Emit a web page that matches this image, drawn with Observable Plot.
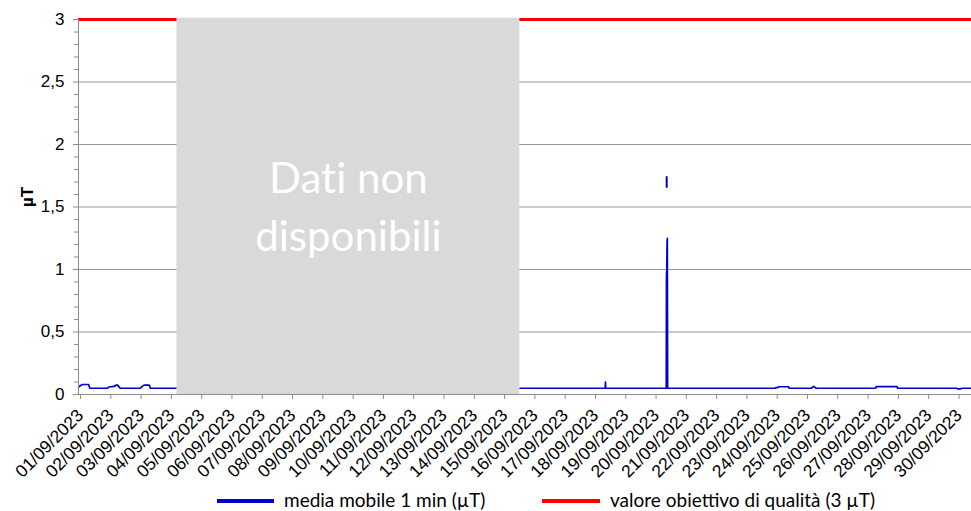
<!DOCTYPE html>
<html>
<head>
<meta charset="utf-8">
<script src="https://cdn.jsdelivr.net/npm/d3@7"></script>
<script src="https://cdn.jsdelivr.net/npm/@observablehq/plot@0.6"></script>
<style>
  html, body { margin: 0; padding: 0; background: #fff; }
  #chart svg { display: block; font-variant-ligatures: none; }
  #chart svg text { font-variant-ligatures: none; }
  #legend { position: relative; height: 25px; font-family: Lato, "DejaVu Sans", sans-serif; font-size: 19px; color: #000; }
  .sw { position: absolute; top: 13px; height: 4px; }
  .lt { position: absolute; top: 2px; white-space: nowrap; }
</style>
</head>
<body>
<div id="chart"></div>
<div id="legend">
  <div class="sw" style="left:217px;width:57px;background:#0000cc"></div>
  <div class="lt" style="left:284px">media mobile 1 min (µT)</div>
  <div class="sw" style="left:542px;width:58px;background:#ff0000"></div>
  <div class="lt" style="left:610px">valore obiettivo di qualità (3 µT)</div>
</div>
<script>
// ---- data ----
const seriesTimes = [
  "2023-09-01T00:00","2023-09-01T01:30","2023-09-01T03:00","2023-09-01T08:00","2023-09-01T09:00",
  "2023-09-01T23:00","2023-09-02T00:00","2023-09-02T04:00","2023-09-02T06:00","2023-09-02T07:00","2023-09-02T09:00",
  "2023-09-03T01:00","2023-09-03T02:30","2023-09-03T04:00","2023-09-03T08:00","2023-09-03T09:00",
  "2023-09-04T06:00","2023-09-10T00:00","2023-09-15T13:40",
  "2023-09-18T09:20","2023-09-18T09:30","2023-09-18T09:40",
  "2023-09-20T09:40","2023-09-20T09:50","2023-09-20T10:05","2023-09-20T10:20","2023-09-20T10:30","2023-09-20T10:45",
  "2023-09-24T00:00","2023-09-24T00:30","2023-09-24T02:00","2023-09-24T03:00","2023-09-24T10:30","2023-09-24T11:00",
  "2023-09-25T04:30","2023-09-25T06:30","2023-09-25T08:30",
  "2023-09-27T07:30","2023-09-27T08:00","2023-09-28T00:30","2023-09-28T01:00",
  "2023-09-30T00:00","2023-09-30T00:30","2023-09-30T03:00","2023-09-30T03:30","2023-09-30T11:30"
];
const seriesValues = [
  0.06, 0.07, 0.08, 0.08, 0.05,
  0.05, 0.06, 0.065, 0.075, 0.075, 0.05,
  0.05, 0.065, 0.075, 0.075, 0.05,
  0.05, NaN, 0.05,
  0.05, 0.1, 0.05,
  0.05, 0.95, 1.0, 1.22, 1.25, 0.05,
  0.05, 0.055, 0.055, 0.062, 0.062, 0.05,
  0.05, 0.065, 0.05,
  0.05, 0.063, 0.063, 0.05,
  0.05, 0.045, 0.045, 0.05, 0.05
];
const isolatedTimes = ["2023-09-20T10:00", "2023-09-20T10:00"];
const isolatedValues = [1.66, 1.74];
const targetValue = 3;
const gapStart = "2023-09-04T06:00";
const gapEnd = "2023-09-15T13:40";
const gapText = "Dati non\ndisponibili";
const xTicks = [
  "2023-09-01","2023-09-02","2023-09-03","2023-09-04","2023-09-05","2023-09-06","2023-09-07","2023-09-08",
  "2023-09-09","2023-09-10","2023-09-11","2023-09-12","2023-09-13","2023-09-14","2023-09-15","2023-09-16",
  "2023-09-17","2023-09-18","2023-09-19","2023-09-20","2023-09-21","2023-09-22","2023-09-23","2023-09-24",
  "2023-09-25","2023-09-26","2023-09-27","2023-09-28","2023-09-29","2023-09-30"
];
const yMajorTicks = [0, 0.5, 1, 1.5, 2, 2.5, 3];
const yMinorTicks = [0.1,0.2,0.3,0.4,0.6,0.7,0.8,0.9,1.1,1.2,1.3,1.4,1.6,1.7,1.8,1.9,2.1,2.2,2.3,2.4,2.6,2.7,2.8,2.9];
const yGrid = [0.5, 1, 1.5, 2, 2.5];
const yLabel = "µT";
const xDomain = ["2023-09-01T00:00", "2023-09-30T11:30"];

// ---- build ----
const T = s => new Date(s + (s.length === 10 ? "T00:00" : "") + "Z");
const series = seriesTimes.map((t, i) => ({t: T(t), v: seriesValues[i]}));
const isolated = isolatedTimes.map((t, i) => ({t: T(t), v: isolatedValues[i]}));
const g0 = T(gapStart), g1 = T(gapEnd);
const gmid = new Date((+g0 + +g1) / 2);
const fmtY = d => String(d).replace(".", ",");
const fmtX = d3.utcFormat("%d/%m/%Y");

const chart = Plot.plot({
  width: 971,
  height: 486,
  marginLeft: 78,
  marginRight: 0,
  marginTop: 19,
  marginBottom: 92,
  style: {fontFamily: "'Liberation Sans', Arial, sans-serif", color: "#000", background: "#fff"},
  x: {type: "utc", domain: xDomain.map(T)},
  y: {domain: [0, 3]},
  marks: [
    Plot.ruleY(yGrid, {stroke: "#979797", strokeWidth: 1}),
    Plot.ruleY([targetValue], {stroke: "#ff0000", strokeWidth: 3}),
    Plot.line(series, {x: "t", y: "v", stroke: "#0000cc", strokeWidth: 1.7}),
    Plot.line(isolated, {x: "t", y: "v", stroke: "#0000cc", strokeWidth: 2}),
    Plot.rect([{a: g0, b: g1}], {x1: "a", x2: "b", y1: 0, y2: 3.01, fill: "#d9d9d9"}),
    Plot.text([gapText], {x: gmid, y: 1.53, fill: "#fff", fontSize: 42, lineHeight: 1.38,
      fontFamily: "Lato, 'Open Sans', sans-serif"}),
    Plot.ruleX([0], {x: () => T(xDomain[0]), y1: 0, y2: 3, stroke: "#8c8c8c", strokeWidth: 1}),
    Plot.ruleY([0], {stroke: "#8c8c8c", strokeWidth: 1}),
    Plot.axisY({ticks: yMinorTicks, tickSize: 4, tickFormat: () => "", stroke: "#8c8c8c", label: null}),
    Plot.axisY({ticks: yMajorTicks, tickSize: 5, tickPadding: 9, tickFormat: fmtY, fontSize: 17, stroke: "#8c8c8c", label: null}),
    Plot.axisX({ticks: xTicks.map(T), tickSize: 5, tickPadding: 13, dx: 2, tickRotate: -45, tickFormat: fmtX, fontSize: 17.5, stroke: "#8c8c8c", label: null}),
    Plot.text([yLabel], {frameAnchor: "left", dx: -51, rotate: -90, fontWeight: "bold", fontSize: 17})
  ]
});
document.getElementById("chart").appendChild(chart);
</script>
</body>
</html>
